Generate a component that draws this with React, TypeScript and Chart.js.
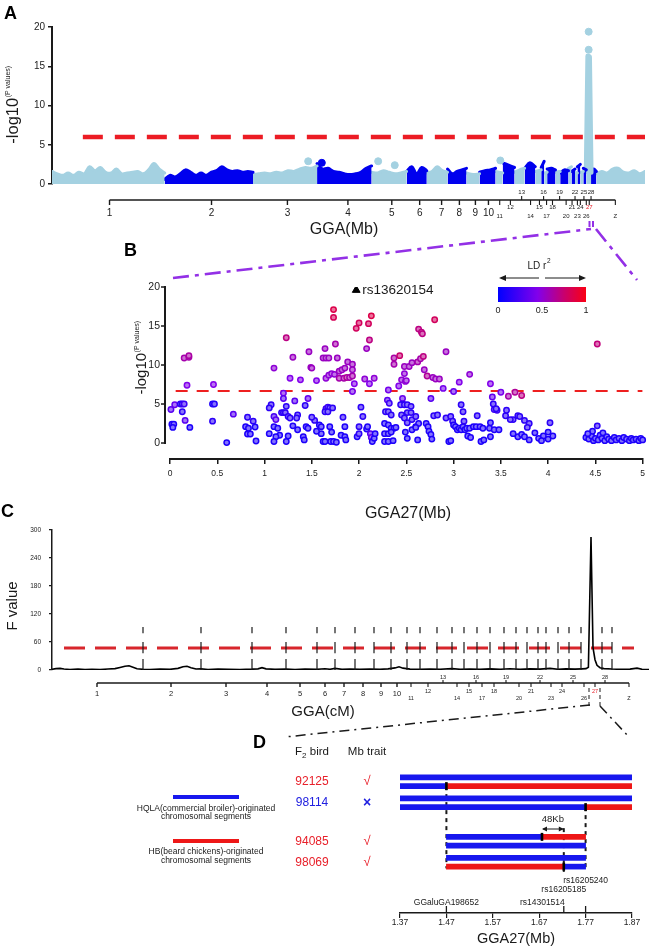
import React, { useEffect, useRef } from 'react';
import { Chart, registerables } from 'chart.js';

Chart.register(...registerables);

const FONT = '"Liberation Sans", Arial, Helvetica, sans-serif';
const INK = '#1a1a1a';
const LIGHT_BLUE = '#a4d1e1';
const DARK_BLUE = '#0000ee';
const RED = '#ec1c24';

// ---------------- Panel A : genome-wide scan (-log10 P) ----------------
const chromNames = ['1','2','3','4','5','6','7','8','9','10','11','12','13','14','15','16','17','18','19','20','21','22','23','24','25','26','27','28','Z'];
const chromBoundsMb = [0,190,339,447,539,598,632,667,699,721,748,760,780,797,815,825,830,835,849,857,871,876,882,886,891,896,901,909,918,1000];
const chromTickMb = [97,269,397,499,573,620,657,687,714,736,755,773,792,807,822,829,834,844,856,867,877,882,886,891,897,901,906,909,950];
const envelopeA = [
  [1.6,1.3,1.1,1.4,1.1,1.5,1.3,2.2,1.7,2.1,1.5,1.4,1.9,1.3,1.4,1.5,1.6,1.3,1.8,2.6,1.9,1.4],
  [0.6,1.1,0.9,1.3,1.8,1.5,1.1,1.4,1.1,1.5,1.7,2.2,1.8,1.6,1.7,1.5,1.6,1.5],
  [1.2,1.3,1.4,1.3,1.5,1.4,1.7,1.6,1.9,2.1,2.0,2.3],
  [2.6,1.9,2.0,1.6,1.5,1.3,1.2,1.3,1.5,2.0,2.3],
  [1.5,1.4,1.7,1.5,1.3,1.4,1.6],
  [1.6,2.2,1.3,2.1,1.7],
  [1.4,1.6,2.2,1.7,1.5],
  [1.9,1.3,1.6,1.8,2.0],
  [1.4,1.2,1.3],
  [1.5,1.7,1.8,2.0],
  [1.6,1.4],
  [2.7,2.4,2.1],
  [1.5,1.8,2.0],
  [2.0,2.7,2.2],
  [1.6,1.8],
  [2.1,2.9],
  [1.4,1.5],
  [1.9,2.0,1.8],
  [1.5,1.6],
  [1.4,1.8,1.7],
  [2.0,2.2],
  [1.6,1.9],
  [1.5,1.4],
  [2.2,2.5],
  [1.5,1.6],
  [2.0,1.8],
  [1.6,16.3,16.2,1.5],
  [1.7,1.9,1.6],
  [1.3,1.6,1.4,1.9,2.0,1.5,1.4,1.7,1.3,1.6],
];
const lightDotsA = [[432,2.9],[550,2.9],[578,2.4],[756,3.0],[905,17.1],[905,19.4]];
const darkDotsA = [[455,2.7]];
const thresholdA = 6;

// ---------------- Panel B : GGA27 regional plot ----------------
// [position Mb, -log10 P, LD r2]
const ldPoints = [
  [0.01,4.3,0.3],[0.02,2.4,0.1],[0.04,2.4,0.1],[0.03,2.0,0.1],[0.05,4.9,0.35],[0.11,5.0,0.15],[0.13,5.0,0.15],[0.15,5.0,0.2],
  [0.13,4.0,0.15],[0.16,2.9,0.3],[0.15,10.9,0.6],[0.2,11.0,0.6],[0.2,11.2,0.62],[0.18,7.4,0.45],[0.21,2.0,0.1],[0.45,5.0,0.1],
  [0.47,5.0,0.12],[0.45,2.8,0.15],[0.46,7.5,0.45],[0.6,0.05,0.1],[0.67,3.7,0.3],[0.82,3.3,0.15],[0.8,2.1,0.1],[0.83,1.9,0.1],
  [0.82,1.15,0.1],[0.85,1.15,0.1],[0.88,2.8,0.15],[0.9,2.05,0.1],[0.91,0.25,0.1],
  [1.05,1.2,0.1],[1.1,9.6,0.5],[1.07,4.9,0.15],[1.05,4.5,0.15],[1.1,3.4,0.25],[1.12,3.0,0.3],[1.1,2.1,0.1],[1.14,1.9,0.1],
  [1.16,1.0,0.1],[1.12,0.8,0.1],[1.2,6.4,0.4],[1.2,5.7,0.3],[1.18,3.9,0.15],[1.2,3.9,0.15],[1.22,3.9,0.15],[1.23,13.5,0.7],
  [1.23,4.7,0.15],[1.25,3.4,0.15],[1.27,3.2,0.15],[1.25,0.9,0.1],[1.23,0.2,0.1],[1.27,8.3,0.45],[1.3,11.0,0.55],[1.32,5.4,0.3],
  [1.35,3.6,0.15],[1.34,3.2,0.15],[1.35,1.7,0.1],[1.38,8.1,0.45],[1.41,0.8,0.1],[1.42,0.4,0.1],[1.44,2.1,0.1],[1.46,1.9,0.1],
  [1.46,5.7,0.35],[1.47,11.7,0.55],[1.49,9.7,0.55],[1.5,9.6,0.55],[1.53,2.9,0.15],[1.55,8.0,0.45],[1.58,2.3,0.1],[1.6,2.1,0.1],
  [1.6,1.2,0.1],[1.62,0.2,0.1],[1.64,0.2,0.1],[1.64,12.1,0.55],[1.62,10.9,0.55],[1.65,10.9,0.55],[1.68,10.9,0.55],[1.65,8.3,0.5],
  [1.68,8.7,0.5],[1.71,8.9,0.5],[1.65,4.4,0.2],[1.67,4.6,0.2],[1.69,4.5,0.15],[1.64,4.0,0.15],[1.67,4.0,0.15],[1.69,2.1,0.1],
  [1.71,1.4,0.1],[1.7,0.2,0.1],[1.73,0.2,0.1],[1.76,0.1,0.1],[1.73,17.1,0.85],[1.73,16.1,0.82],[1.75,12.7,0.6],[1.77,10.9,0.55],
  [1.74,8.8,0.5],[1.72,4.5,0.15],[1.79,9.2,0.55],[1.82,9.4,0.55],[1.85,9.6,0.55],[1.79,8.3,0.6],[1.84,8.3,0.6],[1.87,8.4,0.65],
  [1.9,8.4,0.6],[1.93,8.6,0.6],[1.81,1.0,0.1],[1.85,0.8,0.1],[1.86,0.4,0.1],[1.83,3.3,0.15],[1.85,2.1,0.1],[1.88,10.4,0.55],
  [1.93,10.1,0.55],[1.93,9.4,0.55],[1.95,7.6,0.45],[1.93,6.6,0.4],[1.97,14.7,0.8],[2.0,15.4,0.8],[1.98,0.8,0.1],[2.0,1.2,0.15],
  [2.0,2.1,0.15],[2.02,4.6,0.15],[2.06,8.2,0.5],[2.04,3.4,0.15],[2.08,1.8,0.1],[2.09,2.1,0.1],[2.1,15.3,0.8],[2.13,16.3,0.85],
  [2.11,13.2,0.7],[2.08,12.1,0.55],[2.12,1.2,0.3],[2.13,0.7,0.35],[2.14,0.2,0.1],[2.16,0.6,0.1],[2.17,1.2,0.1],[2.16,8.3,0.5],
  [2.11,7.6,0.45],[1.43,4.8,0.15],[1.5,3.3,0.15],[1.55,1.5,0.1],[1.3,2.2,0.1],[1.1,0.2,0.1],
  [2.31,6.8,0.4],[2.3,5.5,0.3],[2.32,5.1,0.2],[2.28,4.0,0.15],[2.31,4.0,0.15],[2.34,3.6,0.15],[2.27,2.5,0.1],[2.31,2.3,0.1],
  [2.34,1.9,0.1],[2.37,1.9,0.1],[2.27,1.2,0.1],[2.31,1.2,0.1],[2.34,1.4,0.1],[2.39,2.0,0.1],[2.27,0.2,0.1],[2.31,0.2,0.1],
  [2.36,0.3,0.1],[2.37,10.1,0.6],[2.37,10.9,0.62],[2.43,11.2,0.75],[2.42,7.3,0.45],[2.45,8.1,0.5],[2.49,7.9,0.5],[2.5,8.0,0.5],
  [2.46,5.7,0.35],[2.46,5.0,0.2],[2.48,8.9,0.5],[2.48,9.8,0.55],[2.44,4.9,0.15],[2.48,4.9,0.15],[2.51,4.9,0.15],[2.55,4.7,0.15],
  [2.45,3.6,0.15],[2.51,3.9,0.15],[2.55,3.9,0.15],[2.48,3.2,0.15],[2.51,2.6,0.15],[2.56,3.0,0.15],[2.6,3.4,0.15],[2.6,2.1,0.1],
  [2.63,2.5,0.1],[2.49,1.4,0.1],[2.51,0.6,0.1],[2.56,1.7,0.1],[2.6,2.0,0.1],[2.62,0.4,0.1],[2.53,9.8,0.55],[2.56,10.3,0.55],
  [2.62,10.4,0.6],[2.65,10.8,0.6],[2.68,11.1,0.7],[2.63,14.6,0.7],[2.66,14.2,0.7],[2.67,14.0,0.7],[2.69,9.4,0.55],[2.72,8.6,0.65],
  [2.8,15.8,0.8],[2.78,8.4,0.55],[2.81,8.2,0.55],[2.85,8.2,0.55],[2.76,5.7,0.3],[2.79,3.5,0.15],[2.83,3.6,0.15],[2.71,2.5,0.1],
  [2.73,2.1,0.1],[2.74,1.5,0.1],[2.76,1.1,0.1],[2.77,0.5,0.1],[2.92,11.7,0.55],[2.89,7.0,0.4],[2.92,3.2,0.15],[2.97,3.4,0.15],
  [2.99,2.8,0.15],[2.95,0.2,0.1],[2.97,0.3,0.1],[3.0,2.3,0.1],[3.02,2.1,0.1],[3.04,1.7,0.1],[3.06,1.9,0.1],[3.08,1.7,0.1],
  [3.1,2.1,0.1],[3.12,1.7,0.1],[3.0,6.6,0.35],[3.06,7.8,0.45],[3.08,4.9,0.15],[3.1,4.0,0.15],[3.11,2.8,0.15],[3.17,8.8,0.5],
  [3.14,1.9,0.1],[3.17,1.9,0.1],[3.21,2.1,0.1],[3.24,2.1,0.1],[3.28,2.1,0.1],[3.31,1.9,0.1],[3.15,0.9,0.1],[3.18,0.7,0.1],
  [3.29,0.2,0.1],[3.32,0.4,0.1],[3.25,3.5,0.15],[3.39,7.6,0.45],[3.41,5.9,0.35],[3.43,4.3,0.2],[3.46,4.2,0.2],[3.5,6.5,0.4],
  [3.58,6.0,0.6],[3.39,2.6,0.1],[3.38,1.9,0.1],[3.43,1.7,0.1],[3.48,1.7,0.1],[3.39,0.8,0.1],[3.55,3.5,0.15],[3.63,3.0,0.15],
  [3.68,3.5,0.15],[3.68,0.8,0.1],[3.63,1.2,0.1],
  [3.65,6.5,0.65],[3.72,6.1,0.7],[3.42,5.0,0.15],[3.45,4.4,0.15],[3.56,4.2,0.15],[3.6,3.0,0.15],[3.7,3.4,0.15],[3.75,2.9,0.15],
  [3.8,2.5,0.15],[3.78,2.0,0.15],[3.72,1.1,0.1],[3.75,0.8,0.1],[3.8,0.4,0.1],[3.86,1.3,0.1],[3.9,0.6,0.1],[3.95,0.9,0.1],
  [3.93,0.3,0.1],[4.0,0.5,0.1],[4.02,2.6,0.15],[4.0,1.4,0.1],[4.05,0.9,0.1],[4.52,12.7,0.72],[4.52,2.2,0.15],[4.4,0.7,0.1],
  [4.43,0.5,0.1],[4.46,0.9,0.1],[4.48,0.3,0.1],[4.5,0.6,0.1],[4.53,0.4,0.1],[4.55,1.0,0.1],[4.57,0.6,0.1],[4.6,0.3,0.1],
  [4.62,0.8,0.1],[4.64,0.5,0.1],[4.67,0.3,0.1],[4.7,0.7,0.1],[4.72,0.4,0.1],[4.75,0.6,0.1],[4.78,0.3,0.1],[4.8,0.7,0.1],
  [4.83,0.5,0.1],[4.86,0.3,0.1],[4.88,0.6,0.1],[4.9,0.4,0.1],[4.93,0.5,0.1],[4.96,0.3,0.1],[4.98,0.6,0.1],[5.0,0.4,0.1],
  [4.47,1.5,0.1],[4.58,1.3,0.1],[4.42,1.2,0.1],
];
const thresholdB = 6.67;
const leadSnpName = 'rs13620154';
const leadSnpPos = [1.97, 19.6];
const yTicksB = [0, 5, 10, 15, 20];

// ---------------- Panel C : linkage scan (F value) ----------------
const fPosCM = [0,20,40,60,90,130,165,200,240,280,315,340,365,385,405,425,455,490,540,590,630,655,675,695,720,745,780,830,880,940,1000,1030,1050,1070,1115,1170,1215,1265,1325,1365,1390,1415,1450,1490,1540,1590,1640,1680,1715,1735,1755,1790,1840,1890,1940,2000,2040,2090,2140,2190,2240,2290,2340,2390,2440,2490,2530,2570,2615,2650,2670,2682,2695,2705,2715,2725,2740,2760,2800,2840,2890,2925,2950,2985];
const fValue = [1.5,3.0,3.5,2.0,1.2,1.8,1.0,1.6,1.2,2.0,3.0,5.5,8.0,9.0,6.0,2.5,1.5,1.0,1.8,1.4,3.5,7.0,8.0,5.0,2.0,2.5,1.2,1.8,1.4,1.2,1.8,2.5,5.0,2.5,1.4,1.8,1.2,2.0,1.5,2.8,1.5,3.5,1.4,1.8,1.5,2.2,1.4,2.5,4.5,7.0,4.0,1.8,1.5,2.0,1.6,3.0,1.5,2.2,1.5,2.5,1.6,2.8,1.5,2.5,1.8,3.5,1.6,2.4,1.8,2.5,3.0,6.0,285,48,22,10,5,3,2,1.5,1.8,4.0,1.5,1.2];
const thresholdC = 47;
const markerCM = [455,745,1000,1170,1325,1415,1515,1610,1695,1775,1840,1925,2000,2060,2125,2190,2260,2320,2375,2430,2470,2530,2585,2645,2750,2800];
const chromTickCM = [225,595,870,1075,1240,1365,1460,1555,1645,1725,1795,1880,1955,2025,2085,2120,2150,2210,2270,2335,2395,2440,2495,2550,2605,2660,2715,2765,2885];

// ---------------- Panel D : haplotypes ----------------
const birds = ['92125', '98114', '94085', '98069'];
const birdTrait = ['√', '×', '√', '√'];
const birdAffected = [true, false, true, true];
// [bird, haplotype, start Mb, end Mb, origin]
const hapSegments = [
  [0, 0, 1.37, 1.87, 'HQLA'],
  [0, 1, 1.37, 1.47, 'HQLA'], [0, 1, 1.47, 1.87, 'HB'],
  [1, 0, 1.37, 1.87, 'HQLA'],
  [1, 1, 1.37, 1.77, 'HQLA'], [1, 1, 1.77, 1.87, 'HB'],
  [2, 0, 1.47, 1.676, 'HQLA'], [2, 0, 1.676, 1.77, 'HB'],
  [2, 1, 1.47, 1.77, 'HQLA'],
  [3, 0, 1.47, 1.77, 'HQLA'],
  [3, 1, 1.47, 1.723, 'HB'], [3, 1, 1.723, 1.77, 'HQLA'],
];
const dTicks = [1.37, 1.47, 1.57, 1.67, 1.77, 1.87];
const interval48 = [1.676, 1.723];

// ---------------- helpers ----------------
const BLUE_D = '#1717ee';
const RED_D = '#ee1717';

function trackPos(b: number, h: number) {
  return b * 2.4 + h + (b >= 2 ? 2 : 0);
}

function text(ctx: any, s: string, x: number, y: number, size: number, o: any = {}) {
  ctx.save();
  ctx.font = `${o.weight || 'normal'} ${size}px ${FONT}`;
  ctx.fillStyle = o.color || INK;
  ctx.textAlign = o.align || 'center';
  ctx.textBaseline = o.baseline || 'middle';
  ctx.fillText(s, x, y);
  ctx.restore();
}

function seg(ctx: any, x1: number, y1: number, x2: number, y2: number, w: number, color: string, dash: number[] = []) {
  ctx.save();
  ctx.strokeStyle = color;
  ctx.lineWidth = w;
  ctx.setLineDash(dash);
  ctx.beginPath();
  ctx.moveTo(x1, y1);
  ctx.lineTo(x2, y2);
  ctx.stroke();
  ctx.restore();
}

function rotatedTitle(ctx: any, cx: number, cy: number, main: string, sup: string, size: number, supSize: number) {
  ctx.save();
  ctx.translate(cx, cy);
  ctx.rotate(-Math.PI / 2);
  ctx.fillStyle = INK;
  ctx.textBaseline = 'alphabetic';
  ctx.textAlign = 'left';
  ctx.font = `${size}px ${FONT}`;
  const w1 = ctx.measureText(main).width;
  ctx.font = `${supSize}px ${FONT}`;
  const w2 = sup ? ctx.measureText(sup).width : 0;
  const start = -(w1 + w2) / 2;
  ctx.font = `${size}px ${FONT}`;
  ctx.fillText(main, start, 0);
  if (sup) {
    ctx.font = `${supSize}px ${FONT}`;
    ctx.fillText(sup, start + w1 + 0.5, -size * 0.5);
  }
  ctx.restore();
}

function chromLevel(i: number) {
  if (i < 10) return 0;
  return [3, 2, 1][(i - 10) % 3];
}

function drawChromAxis(ctx: any, sx: any, ticks: number[], c: any) {
  const xs = ticks.map((v) => sx.getPixelForValue(v));
  seg(ctx, xs[0], c.axisY, xs[xs.length - 1], c.axisY, c.lineW, INK);
  xs.forEach((x, i) => {
    const lv = chromLevel(i);
    if (lv === 1) seg(ctx, x, c.axisY, x, c.axisY - c.tickUp, 1.1, INK);
    else seg(ctx, x, c.axisY, x, c.axisY + c.tickDown, lv === 0 ? 1.4 : 1.1, INK);
    const y = [c.mainY, c.upY, c.midY, c.lowY][lv];
    text(ctx, chromNames[i], x, y, lv === 0 ? c.mainSize : c.smallSize, {
      color: chromNames[i] === '27' ? '#e8202a' : '#222',
    });
  });
}

const ldStops: any[] = [
  [0, [0, 0, 255]],
  [0.45, [130, 0, 235]],
  [0.75, [200, 0, 110]],
  [1, [250, 0, 20]],
];
function ldRGB(r: number) {
  for (let i = 1; i < ldStops.length; i++) {
    const [p0, c0] = ldStops[i - 1];
    const [p1, c1] = ldStops[i];
    if (r <= p1) {
      const t = (r - p0) / (p1 - p0);
      return c0.map((v: number, k: number) => Math.round(v + (c1[k] - v) * t));
    }
  }
  return ldStops[ldStops.length - 1][1];
}
const rgb = (c: number[]) => `rgb(${c[0]},${c[1]},${c[2]})`;
const lighten = (c: number[], f: number) => rgb(c.map((v) => Math.round(v + (255 - v) * f)));

const noLegend = { legend: { display: false }, tooltip: { enabled: false } };

// ---------------- Chart A ----------------
const decorA = {
  id: 'decorA',
  afterDraw(chart: any) {
    const ctx = chart.ctx;
    text(ctx, 'A', 4, 14, 18, { weight: 'bold', align: 'left', color: '#000' });
    rotatedTitle(ctx, 18, 105, '-log10', '(P values)', 16.5, 7);
    drawChromAxis(ctx, chart.scales.x, chromTickMb, {
      axisY: 200, mainY: 213, upY: 192, midY: 207, lowY: 216,
      mainSize: 10, smallSize: 6, tickUp: 4, tickDown: 5, lineW: 1.6,
    });
    text(ctx, 'GGA(Mb)', 344, 230, 16);
  },
};

function configA() {
  const datasets: any[] = [];
  envelopeA.forEach((h, i) => {
    const s = chromBoundsMb[i];
    const e = chromBoundsMb[i + 1];
    const col = i % 2 === 0 ? LIGHT_BLUE : DARK_BLUE;
    const isPeak = Math.max(...h) > 10;
    datasets.push({
      type: 'line',
      showLine: true,
      data: h.map((v, j) => ({ x: s + ((e - s) * j) / (h.length - 1), y: v })),
      borderColor: col,
      backgroundColor: col,
      fill: 'origin',
      borderWidth: isPeak ? 5 : 3,
      pointRadius: 0,
      tension: isPeak ? 0 : 0.35,
      borderCapStyle: 'round',
      borderJoinStyle: 'round',
      order: 3,
    });
  });
  datasets.push({
    type: 'scatter',
    data: lightDotsA.map(([x, y]) => ({ x, y })),
    pointBackgroundColor: LIGHT_BLUE, pointBorderColor: LIGHT_BLUE, pointRadius: 3.5, order: 2,
  });
  datasets.push({
    type: 'scatter',
    data: darkDotsA.map(([x, y]) => ({ x, y })),
    pointBackgroundColor: DARK_BLUE, pointBorderColor: DARK_BLUE, pointRadius: 3.5, order: 2,
  });
  datasets.push({
    type: 'line', showLine: true,
    data: [{ x: 52, y: thresholdA }, { x: 1000, y: thresholdA }],
    borderColor: RED, borderWidth: 4.5, borderDash: [20, 12], pointRadius: 0, fill: false, order: 4,
  });
  return {
    type: 'scatter',
    data: { datasets },
    options: {
      animation: false, responsive: false,
      layout: { padding: { left: 0, right: 3, top: 27, bottom: 56 } },
      plugins: noLegend,
      scales: {
        x: { type: 'linear', min: 0, max: 1000, display: false },
        y: {
          type: 'linear', min: 0, max: 20,
          ticks: { stepSize: 5, color: '#222', font: { family: FONT, size: 10 }, padding: 3 },
          grid: { drawOnChartArea: false, tickLength: 4, color: INK, lineWidth: 1.5 },
          border: { display: true, color: INK, width: 2 },
          afterFit: (s: any) => { s.width = 52; },
        },
      },
    },
    plugins: [decorA],
  };
}

// ---------------- Chart B ----------------
const decorB = {
  id: 'decorB',
  afterDraw(chart: any) {
    const ctx = chart.ctx;
    const sx = chart.scales.x;
    const sy = chart.scales.y;
    const axX = sx.left - 5;
    seg(ctx, axX, sy.getPixelForValue(0) + 1, axX, sy.getPixelForValue(20) - 1, 2, INK);
    yTicksB.forEach((v) => seg(ctx, axX, sy.getPixelForValue(v), axX - 4, sy.getPixelForValue(v), 1.5, INK));
    text(ctx, 'B', 124, 36, 18, { weight: 'bold', align: 'left', color: '#000' });
    rotatedTitle(ctx, 146, 143, '-log10', '(P values)', 15, 7);
    // lead SNP label
    const lx = sx.getPixelForValue(leadSnpPos[0]);
    const ly = sy.getPixelForValue(leadSnpPos[1]);
    text(ctx, leadSnpName, lx + 6, ly, 13.5, { align: 'left' });
    // LD legend
    const gx0 = 498, gx1 = 586, gy0 = 72, gy1 = 87;
    const g = ctx.createLinearGradient(gx0, 0, gx1, 0);
    ldStops.forEach(([p, c]: any) => g.addColorStop(p, rgb(c)));
    ctx.save();
    ctx.fillStyle = g;
    ctx.fillRect(gx0, gy0, gx1 - gx0, gy1 - gy0);
    ctx.restore();
    text(ctx, '0', gx0, 96, 9);
    text(ctx, '0.5', (gx0 + gx1) / 2, 96, 9);
    text(ctx, '1', gx1, 96, 9);
    ctx.save();
    ctx.font = `10px ${FONT}`;
    const wLD = ctx.measureText('LD r').width;
    ctx.restore();
    text(ctx, 'LD r', 537 - wLD / 2, 51, 10, { align: 'left' });
    text(ctx, '2', 537 + wLD / 2 + 0.5, 46, 6.5, { align: 'left' });
    // arrows
    seg(ctx, 539, 63, 501, 63, 1, INK);
    seg(ctx, 545, 63, 584, 63, 1, INK);
    ctx.save();
    ctx.fillStyle = INK;
    ctx.beginPath(); ctx.moveTo(499, 63); ctx.lineTo(506, 60); ctx.lineTo(506, 66); ctx.closePath(); ctx.fill();
    ctx.beginPath(); ctx.moveTo(586, 63); ctx.lineTo(579, 60); ctx.lineTo(579, 66); ctx.closePath(); ctx.fill();
    ctx.restore();
    // zoom connector from panel A (chr 27)
    const purple = '#9330e6';
    seg(ctx, 589.5, 6, 589.5, 12, 2, purple);
    seg(ctx, 593, 6, 593, 12, 2, purple);
    seg(ctx, 173, 63, 591, 14, 2.6, purple, [16, 6, 4, 6]);
    seg(ctx, 596, 14, 637, 65, 2.6, purple, [16, 6, 4, 6]);
  },
};

function configB() {
  return {
    type: 'scatter',
    data: {
      datasets: [
        {
          type: 'scatter',
          data: [{ x: leadSnpPos[0], y: leadSnpPos[1] }],
          pointStyle: 'triangle', pointRadius: 4.5,
          pointBackgroundColor: '#000', pointBorderColor: '#000', order: 0,
        },
        {
          type: 'scatter',
          data: ldPoints.map((p) => ({ x: p[0], y: p[1] })),
          pointBackgroundColor: ldPoints.map((p) => lighten(ldRGB(p[2]), 0.45)),
          pointBorderColor: ldPoints.map((p) => rgb(ldRGB(p[2]))),
          pointRadius: 2.7, pointBorderWidth: 1.5, order: 1, clip: false,
        },
        {
          type: 'line', showLine: true,
          data: [{ x: 0.06, y: thresholdB }, { x: 5, y: thresholdB }],
          borderColor: '#ee2020', borderWidth: 2, borderDash: [12, 9], pointRadius: 0, fill: false, order: 2,
        },
      ],
    },
    options: {
      animation: false, responsive: false,
      layout: { padding: { left: 0, right: 4, top: 72, bottom: 9 } },
      plugins: noLegend,
      scales: {
        x: {
          type: 'linear', min: 0, max: 5,
          ticks: {
            stepSize: 0.5, color: '#222', font: { family: FONT, size: 8.5 }, padding: 5,
            callback: (v: any) => String(Number(Number(v).toFixed(2))),
          },
          grid: { drawOnChartArea: false, tickLength: 5, color: INK, lineWidth: 1.5 },
          border: { display: true, color: INK, width: 2 },
          afterFit: (s: any) => { s.height = 22; },
        },
        y: {
          type: 'linear', min: -2.05, max: 20,
          afterBuildTicks: (s: any) => { s.ticks = yTicksB.map((v) => ({ value: v })); },
          ticks: { color: '#222', font: { family: FONT, size: 10.5 }, padding: 10 },
          grid: { display: false, drawTicks: false },
          border: { display: false },
          afterFit: (s: any) => { s.width = 170; },
        },
      },
    },
    plugins: [decorB],
  };
}

// ---------------- Chart C ----------------
const decorC = {
  id: 'decorC',
  afterDatasetsDraw(chart: any) {
    const ctx = chart.ctx;
    const sx = chart.scales.x;
    const sy = chart.scales.y;
    markerCM.forEach((m) => {
      const x = sx.getPixelForValue(m);
      [[79, 92], [36, 60], [0, 23.5]].forEach(([a, b]) =>
        seg(ctx, x, sy.getPixelForValue(a), x, sy.getPixelForValue(b), 1.2, INK));
    });
  },
  afterDraw(chart: any) {
    const ctx = chart.ctx;
    text(ctx, 'C', 1, 22, 18, { weight: 'bold', align: 'left', color: '#000' });
    text(ctx, 'GGA27(Mb)', 408, 24, 16);
    rotatedTitle(ctx, 17, 116, 'F value', '', 15, 0);
    drawChromAxis(ctx, chart.scales.x, chromTickCM, {
      axisY: 193, mainY: 204, upY: 187, midY: 201, lowY: 208,
      mainSize: 7.5, smallSize: 5.5, tickUp: 3, tickDown: 4, lineW: 1.5,
    });
    text(ctx, 'GGA(cM)', 323, 222, 15);
    seg(ctx, 589, 198, 589, 216, 1, INK, [4, 3]);
    seg(ctx, 600, 198, 600, 216, 1, INK, [4, 3]);
  },
};

function configC() {
  return {
    type: 'scatter',
    data: {
      datasets: [
        {
          type: 'line', showLine: true,
          data: fPosCM.map((x, i) => ({ x, y: fValue[i] })),
          borderColor: '#000', borderWidth: 1.6, pointRadius: 0, fill: false, tension: 0, order: 1,
        },
        {
          type: 'line', showLine: true,
          data: [{ x: 60, y: thresholdC }, { x: 2910, y: thresholdC }],
          borderColor: '#d8262c', borderWidth: 3, borderDash: [21, 10], pointRadius: 0, fill: false, order: 2,
        },
      ],
    },
    options: {
      animation: false, responsive: false,
      layout: { padding: { left: 0, right: 1, top: 40, bottom: 50 } },
      plugins: noLegend,
      scales: {
        x: { type: 'linear', min: 0, max: 2985, display: false },
        y: {
          type: 'linear', min: 0, max: 300,
          ticks: { stepSize: 60, color: '#222', font: { family: FONT, size: 6.5 }, padding: 8 },
          grid: { drawOnChartArea: false, tickLength: 3, color: INK, lineWidth: 1.2 },
          border: { display: true, color: INK, width: 1.5 },
          afterFit: (s: any) => { s.width = 52; },
        },
      },
    },
    plugins: [decorC],
  };
}

// ---------------- Chart D ----------------
const decorD = {
  id: 'decorD',
  beforeDatasetsDraw(chart: any) {
    const ctx = chart.ctx;
    const sx = chart.scales.x;
    const sy = chart.scales.y;
    const v = (p: number) => sy.getPixelForValue(p);
    seg(ctx, sx.getPixelForValue(1.47), v(1), sx.getPixelForValue(1.47), v(10.4), 2, INK, [4, 4]);
    seg(ctx, sx.getPixelForValue(1.77), v(3.4), sx.getPixelForValue(1.77), v(10.4), 2, INK, [4, 4]);
    seg(ctx, sx.getPixelForValue(1.723), v(5.8), sx.getPixelForValue(1.723), v(10.8), 2, INK, [4, 4]);
  },
  afterDraw(chart: any) {
    const ctx = chart.ctx;
    const sx = chart.scales.x;
    const sy = chart.scales.y;
    const px = (m: number) => sx.getPixelForValue(m);
    // breakpoints
    hapSegments.forEach((s, i) => {
      const prev = hapSegments[i - 1];
      if (prev && prev[0] === s[0] && prev[1] === s[1] && prev[4] !== s[4]) {
        const x = px(s[2] as number);
        const y = sy.getPixelForValue(trackPos(s[0] as number, s[1] as number));
        ctx.save(); ctx.fillStyle = '#000'; ctx.fillRect(x - 1.3, y - 4, 2.6, 8); ctx.restore();
      }
    });
    // 48Kb interval
    const ay = sy.getPixelForValue(5.9);
    const ax0 = px(interval48[0]);
    const ax1 = px(interval48[1]);
    seg(ctx, ax0 + 1, ay, ax1 - 1, ay, 1, INK);
    ctx.save(); ctx.fillStyle = INK;
    ctx.beginPath(); ctx.moveTo(ax0, ay); ctx.lineTo(ax0 + 5, ay - 2.5); ctx.lineTo(ax0 + 5, ay + 2.5); ctx.fill();
    ctx.beginPath(); ctx.moveTo(ax1, ay); ctx.lineTo(ax1 - 5, ay - 2.5); ctx.lineTo(ax1 - 5, ay + 2.5); ctx.fill();
    ctx.restore();
    text(ctx, '48Kb', (ax0 + ax1) / 2, ay - 10, 9.5);
    // marker labels
    text(ctx, 'rs16205240', px(1.77), 181, 8.5);
    text(ctx, 'rs16205185', px(1.723), 190, 8.5);
    const axY = chart.chartArea.bottom;
    [1.47, 1.723, 1.77].forEach((m) => seg(ctx, px(m), axY, px(m), axY - 7, 1.3, INK));
    text(ctx, 'GGaluGA198652', px(1.47), 203, 8.5);
    text(ctx, 'rs14301514', px(1.723) + 1, 203, 8.5, { align: 'right' });
    text(ctx, 'GGA27(Mb)', 516, 239, 14.5);
    // left side
    text(ctx, 'D', 253, 43, 18, { weight: 'bold', align: 'left', color: '#000' });
    ctx.save();
    ctx.font = `11.5px ${FONT}`;
    const wF = ctx.measureText('F').width;
    const wB = ctx.measureText(' bird').width;
    ctx.font = `8px ${FONT}`;
    const w2 = ctx.measureText('2').width;
    ctx.restore();
    const fx = 312 - (wF + w2 + wB) / 2;
    text(ctx, 'F', fx, 52, 11.5, { align: 'left' });
    text(ctx, '2', fx + wF, 56, 8, { align: 'left' });
    text(ctx, ' bird', fx + wF + w2, 52, 11.5, { align: 'left' });
    text(ctx, 'Mb trait', 367, 52, 11.5);
    birds.forEach((b, i) => {
      const y = sy.getPixelForValue(trackPos(i, 0.5));
      const col = birdAffected[i] ? '#e8202a' : '#2020e0';
      text(ctx, b, 312, y, 12, { color: col });
      text(ctx, birdTrait[i], 367, y, birdTrait[i] === '×' ? 14 : 13, {
        color: col, weight: birdTrait[i] === '×' ? 'bold' : 'normal',
      });
    });
    // legend
    ctx.save();
    ctx.fillStyle = BLUE_D; ctx.fillRect(173, 95, 66, 4);
    ctx.fillStyle = RED_D; ctx.fillRect(173, 139, 66, 4);
    ctx.restore();
    text(ctx, 'HQLA(commercial broiler)-originated', 206, 109, 8.5);
    text(ctx, 'chromosomal segments', 206, 117, 8.5);
    text(ctx, 'HB(beard chickens)-originated', 206, 152, 8.5);
    text(ctx, 'chromosomal segments', 206, 161, 8.5);
    // zoom connector from panel C
    seg(ctx, 590, 5, 285, 37, 1.5, INK, [10, 5, 2, 5]);
    seg(ctx, 600, 6, 629, 37, 1.5, INK, [10, 5, 2, 5]);
  },
};

function configD() {
  return {
    type: 'bar',
    data: {
      datasets: [
        {
          data: hapSegments.map((s) => ({ x: [s[2], s[3]], y: trackPos(s[0] as number, s[1] as number) })),
          backgroundColor: hapSegments.map((s) => (s[4] === 'HB' ? RED_D : BLUE_D)),
          barThickness: 5,
          borderWidth: 0,
        },
      ],
    },
    options: {
      indexAxis: 'y',
      animation: false, responsive: false,
      layout: { padding: { left: 400, right: 18, top: 59, bottom: 16 } },
      plugins: noLegend,
      scales: {
        x: {
          type: 'linear', min: 1.37, max: 1.87,
          afterBuildTicks: (s: any) => { s.ticks = dTicks.map((v) => ({ value: v })); },
          ticks: {
            color: '#222', font: { family: FONT, size: 8.5 }, padding: 0,
            callback: (v: any) => Number(v).toFixed(2),
          },
          grid: { drawOnChartArea: false, tickLength: 5, color: INK, lineWidth: 1.2 },
          border: { display: true, color: INK, width: 1.5 },
          afterFit: (s: any) => { s.height = 20; },
        },
        y: { type: 'linear', min: -1, max: 14.4, reverse: true, display: false },
      },
    },
    plugins: [decorD],
  };
}

function ChartCanvas({ top, height, build }: { top: number; height: number; build: () => any }) {
  const ref = useRef<HTMLCanvasElement>(null);
  useEffect(() => {
    const chart = new Chart(ref.current as HTMLCanvasElement, build());
    return () => chart.destroy();
  }, []);
  return (
    <canvas
      ref={ref}
      width={650}
      height={height}
      style={{ position: 'absolute', left: 0, top, width: 650, height }}
    />
  );
}

export default function App() {
  return (
    <div style={{ position: 'absolute', left: 0, top: 0, width: 650, height: 949, background: '#fff', overflow: 'hidden' }}>
      <ChartCanvas top={0} height={240} build={configA} />
      <ChartCanvas top={215} height={275} build={configB} />
      <ChartCanvas top={490} height={230} build={configC} />
      <ChartCanvas top={700} height={249} build={configD} />
    </div>
  );
}
